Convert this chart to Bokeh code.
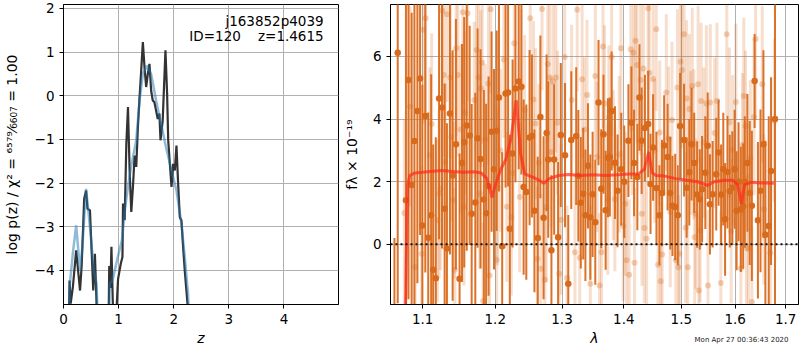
from bokeh.plotting import figure
from bokeh.layouts import row
from bokeh.models import Range1d, FixedTicker, Label, Span, Title, CustomJSTickFormatter, ColumnDataSource
from bokeh.embed import file_html
from bokeh.resources import INLINE

# ---------------- left panel: p(z) ----------------
pz_z = [0.085, 0.11, 0.13, 0.17, 0.23, 0.27, 0.30, 0.33, 0.375, 0.41, 0.435, 0.48, 0.51, 0.54, 0.57, 0.60, 0.62,
        0.81, 0.83, 0.85, 0.87, 0.89, 0.91, 0.95, 0.99, 1.04, 1.07, 1.08, 1.11, 1.14, 1.17, 1.20, 1.23, 1.26, 1.29,
        1.32, 1.35, 1.38, 1.41, 1.44, 1.47, 1.50, 1.53, 1.56, 1.59, 1.62, 1.65, 1.68, 1.71, 1.74, 1.76, 1.80, 1.85,
        1.88, 1.90, 1.93, 1.96, 1.99, 2.02, 2.05, 2.08, 2.11, 2.14, 2.17, 2.20, 2.23, 2.25, 2.28]
pz_logp = [-6.0, -4.23, -4.76, -4.38, -3.54, -4.07, -4.46, -3.88, -2.36, -2.17, -2.59, -2.62, -3.54, -4.46, -3.62, -4.76, -6.0,
           -6.0, -3.9, -4.4, -3.46, -4.5, -5.5, -5.2, -4.2, -3.84, -3.69, -2.47, -2.85, -1.10, -0.26, -1.71, -2.66, -2.09, -1.37,
           -1.63, -0.72, -0.03, 0.58, 1.23, 0.65, 0.20, 0.50, 0.73, 0.12, -0.11, -0.15, -0.34, -0.53, -0.41, -1.02, -0.57, 1.04,
           0.05, -1.02, -1.56, -2.09, -1.56, -1.71, -1.14, -2.01, -2.78, -2.85, -3.46, -4.00, -4.46, -4.76, -6.0]

fit_z = [0.09, 0.11, 0.17, 0.23, 0.30, 0.34, 0.41, 0.48, 0.55, 0.60, 0.64, 0.82, 0.84, 0.89, 0.97, 1.06, 1.12,
         1.18, 1.23, 1.32, 1.38, 1.44, 1.52, 1.59, 1.68, 1.77, 1.86, 1.96, 2.05, 2.14, 2.20, 2.26, 2.30]
fit_logp = [-6.0, -4.38, -3.6, -2.97, -4.0, -3.5, -2.13, -3.0, -4.0, -4.3, -6.0, -6.0, -4.3, -4.23, -3.77, -3.31, -2.55,
            -2.0, -1.6, -1.02, -0.11, 0.50, 0.69, 0.50, -0.11, -0.64, -1.18, -1.71, -2.17, -2.93, -3.69, -4.53, -6.0]

z_ticks = [0, 1, 2, 3, 4]
logp_ticks = [-4, -3, -2, -1, 0, 1, 2]

# ---------------- right panel: spectrum ----------------
dark_wave = [1.0633, 1.0675, 1.0781, 1.0814, 1.0855, 1.0891, 1.0930, 1.0965, 1.0995, 1.1034,
             1.1073, 1.1112, 1.1139, 1.1174, 1.1218, 1.1257, 1.1293, 1.1324, 1.1365, 1.1402,
             1.1447, 1.1497, 1.1531, 1.1561, 1.1596, 1.1637, 1.1665, 1.1716, 1.1748, 1.1790,
             1.1837, 1.1869, 1.1904, 1.1947, 1.1982, 1.2020, 1.2053, 1.2100, 1.2149, 1.2186,
             1.2211, 1.2252, 1.2294, 1.2342, 1.2382, 1.2415, 1.2455, 1.2504, 1.2539, 1.2577,
             1.2627, 1.2667, 1.2716, 1.2762, 1.2787, 1.2836, 1.2878, 1.2939, 1.2981, 1.3047,
             1.3098, 1.3145, 1.3223, 1.3257, 1.3296, 1.3335, 1.3370, 1.3411, 1.3449, 1.3486,
             1.3529, 1.3582, 1.3626, 1.3663, 1.3698, 1.3736, 1.3768, 1.3797, 1.3853, 1.3896,
             1.3957, 1.4007, 1.4078, 1.4128, 1.4173, 1.4229, 1.4265, 1.4303, 1.4359, 1.4415,
             1.4456, 1.4500, 1.4559, 1.4611, 1.4656, 1.4694, 1.4755, 1.4802, 1.4842, 1.4890,
             1.4936, 1.4978, 1.5049, 1.5096, 1.5144, 1.5185, 1.5233, 1.5287, 1.5336, 1.5378,
             1.5438, 1.5482, 1.5524, 1.5574, 1.5641, 1.5685, 1.5733, 1.5774, 1.5808, 1.5853,
             1.5896, 1.5946, 1.5990, 1.6028, 1.6066, 1.6110, 1.6155, 1.6186, 1.6237, 1.6282,
             1.6324, 1.6378, 1.6443, 1.6494, 1.6552, 1.6591, 1.6658, 1.6704, 1.6783]
dark_flux = [-3.30, 6.12, 1.41, 5.25, 1.90, 3.30, 4.26, 5.30, 0.60, 4.10,
             0.21, 0.93, -0.81, -1.08, 4.66, 4.37, 1.14, -0.13, 4.18, 2.20,
             3.20, -1.10, 2.60, 3.26, 3.80, 3.48, 0.98, 1.34, 3.39, 2.73,
             1.43, 0.99, 1.86, 3.60, 2.40, 3.63, 4.69, -0.06, 4.82, 4.85,
             0.50, 2.90, 4.98, 5.20, 5.03, 1.83, 1.67, 3.41, 3.46, 1.07,
             0.20, 4.07, 0.85, 3.56, 2.71, -0.19, 2.71, 0.23, 3.49, 2.85,
             -1.26, 3.33, 3.46, 2.19, 1.33, 1.62, 0.93, 2.51, 0.87, 1.60,
             0.71, 4.53, 1.78, 3.52, 1.09, 2.77, 2.79, 4.26, 2.61, 1.71,
             2.40, 2.00, 3.31, 3.88, 2.60, 2.15, 4.69, 3.31, 3.72, 3.84,
             1.93, 3.09, 1.80, 0.93, 1.64, 3.16, 2.79, 1.64, 1.23, 1.19,
             0.93, 3.78, 3.33, 1.81, 2.30, 3.20, 2.60, 1.59, 1.44, 1.76,
             2.29, 3.15, 1.28, 1.60, 2.24, 2.93, 1.59, 2.40, 0.80, 2.31,
             1.70, 1.81, 2.40, 1.07, 2.00, 1.12, 1.22, 1.99, 2.60, 1.64,
             1.23, 5.22, 0.77, 1.71, 3.20, 0.31, 0.59, 2.34, 4.00]
dark_err = [3.5, 8.0, 7.5, 7.0, 5.5, 6.0, 5.5, 5.0, 4.5, 5.0,
            4.0, 4.5, 4.0, 4.5, 4.5, 4.5, 4.0, 4.0, 4.5, 4.0,
            4.0, 4.0, 3.8, 4.0, 4.0, 3.5, 3.5, 3.5, 3.5, 3.5,
            3.5, 3.5, 3.5, 3.2, 3.2, 3.2, 3.0, 3.0, 3.0, 3.0,
            3.0, 3.0, 3.0, 2.8, 2.8, 2.8, 2.8, 2.8, 2.6, 2.6,
            2.6, 2.6, 2.6, 2.5, 2.5, 2.4, 2.4, 2.4, 2.3, 2.3,
            2.2, 2.2, 2.2, 2.1, 2.1, 2.1, 2.1, 2.0, 2.0, 2.0,
            2.0, 2.0, 1.9, 1.9, 1.9, 1.9, 1.9, 1.9, 1.8, 1.8,
            1.8, 1.8, 1.8, 1.8, 1.7, 1.7, 1.7, 1.7, 1.7, 1.7,
            1.6, 1.7, 1.8, 1.6, 1.7, 1.6, 1.7, 1.8, 1.6, 1.7,
            1.6, 1.7, 1.8, 1.6, 1.7, 1.8, 1.6, 1.7, 1.6, 1.7,
            1.8, 1.7, 1.6, 1.7, 1.8, 1.7, 1.6, 1.8, 1.8, 1.8,
            1.8, 1.8, 1.9, 1.9, 1.9, 2.0, 2.0, 2.1, 2.2, 2.3,
            2.4, 1.5, 2.5, 2.6, 3.0, 3.0, 3.5, 3.0, 6.0]

light_wave = [1.0760, 1.0836, 1.0900, 1.0987, 1.1008, 1.1039, 1.1095, 1.1118, 1.1196, 1.1218,
              1.1236, 1.1262, 1.1284, 1.1300, 1.1324, 1.1370, 1.1384, 1.1420, 1.1432, 1.1450,
              1.1474, 1.1511, 1.1542, 1.1558, 1.1575, 1.1609, 1.1702, 1.1734, 1.1762, 1.1778,
              1.1795, 1.1813, 1.1827, 1.1855, 1.1901, 1.1918, 1.1935, 1.2020, 1.2034, 1.2074,
              1.2124, 1.2168, 1.2233, 1.2259, 1.2276, 1.2357, 1.2379, 1.2430, 1.2514, 1.2562,
              1.2592, 1.2622, 1.2644, 1.2675, 1.2692, 1.2735, 1.2757, 1.2780, 1.2810, 1.2833,
              1.2863, 1.2904, 1.2931, 1.2954, 1.2985, 1.3042, 1.3078, 1.3151, 1.3203, 1.3239,
              1.3280, 1.3317, 1.3354, 1.3396, 1.3449, 1.3529, 1.3558, 1.3598, 1.3631, 1.3655,
              1.3679, 1.3733, 1.3752, 1.3797, 1.3825, 1.3850, 1.3924, 1.3952, 1.3990, 1.4023,
              1.4048, 1.4090, 1.4118, 1.4139, 1.4164, 1.4181, 1.4198, 1.4224, 1.4286, 1.4308,
              1.4333, 1.4350, 1.4388, 1.4415, 1.4435, 1.4500, 1.4529, 1.4555, 1.4586, 1.4616,
              1.4633, 1.4659, 1.4732, 1.4772, 1.4802, 1.4833, 1.4900, 1.4930, 1.4948, 1.4966,
              1.4984, 1.5010, 1.5049, 1.5078, 1.5096, 1.5117, 1.5144, 1.5170, 1.5197, 1.5224,
              1.5242, 1.5260, 1.5305, 1.5318, 1.5342, 1.5360, 1.5409, 1.5457, 1.5488, 1.5530,
              1.5611, 1.5654, 1.5728, 1.5840, 1.5890, 1.5924, 1.5952, 1.6014, 1.6110, 1.6142,
              1.6167, 1.6200, 1.6218, 1.6257, 1.6295, 1.6324, 1.6366, 1.6397, 1.6528, 1.6561,
              1.6690, 1.6769]
light_flux = [1.00, 4.40, -0.73, -0.30, 6.85, 7.22, 2.85, 3.84, 0.77, 1.62,
              1.78, 7.46, 5.41, 2.63, 7.35, 5.33, 3.43, 1.41, -0.81, 6.26,
              5.41, 3.67, 7.41, 1.19, 4.20, 7.38, 4.61, 6.21, 5.33, 1.62,
              4.98, 5.80, -1.81, 3.35, 5.14, -0.99, 7.51, -0.49, 1.83, 3.00,
              5.90, 1.20, 0.87, 2.28, 6.42, 1.51, 5.01, 4.29, 7.22, 4.63,
              3.86, -0.46, 2.61, -0.78, 7.52, -1.13, 1.19, 5.76, 5.33, 2.95,
              5.19, 5.33, 3.88, -0.94, 0.79, 5.98, -1.07, 4.61, -0.25, 7.49,
              -0.43, 5.27, 3.67, 4.77, -1.26, 5.38, 2.79, -1.31, -0.25, 6.32,
              4.50, 1.43, 4.05, 5.98, 2.53, 1.44, 2.88, 6.26, 0.59, 1.30,
              -0.51, -0.97, 6.23, 3.88, 6.12, -0.59, 6.50, 5.73, 5.25, 0.98,
              5.62, 0.52, 0.18, 7.54, 5.48, 5.28, 2.99, 6.87, -0.65, 3.57,
              -1.18, -0.32, 4.85, 3.38, 1.03, 3.97, -0.51, 5.01, -0.73, -0.30,
              5.83, 5.57, 6.71, 0.53, 4.66, -0.73, 4.32, 3.24, 5.06, 3.20,
              0.23, 0.98, 5.11, -1.47, 0.45, 4.58, 3.25, 4.50, -1.31, 4.53,
              3.56, 4.58, -1.23, 6.71, 3.89, 0.42, 3.01, 4.55, -0.76, 3.17,
              4.74, 3.78, -0.11, -0.14, 2.74, -1.84, 4.07, 6.56, 5.11, 1.12,
              -0.27, 3.95]
light_err = [3.0, 3.2, 3.0, 2.8, 3.0, 3.1, 2.8, 2.9, 2.6, 2.7,
             2.6, 2.9, 2.6, 2.5, 2.8, 2.6, 2.7, 2.5, 2.6, 2.8,
             2.6, 2.7, 2.9, 2.5, 2.6, 2.8, 2.5, 2.7, 2.6, 2.4,
             2.5, 2.6, 2.5, 2.4, 2.6, 2.5, 2.7, 2.4, 2.5, 2.6,
             2.5, 2.4, 2.5, 2.3, 2.6, 2.4, 2.5, 2.4, 2.6, 2.5,
             2.4, 2.3, 2.5, 2.4, 2.6, 2.3, 2.4, 2.5, 2.6, 2.4,
             2.5, 2.4, 2.3, 2.5, 2.4, 2.6, 2.3, 2.4, 2.5, 2.6,
             2.4, 2.5, 2.3, 2.4, 2.5, 2.6, 2.4, 2.3, 2.4, 2.6,
             2.5, 2.4, 2.3, 2.5, 2.4, 2.3, 2.5, 2.6, 2.4, 2.3,
             2.5, 2.4, 2.6, 2.3, 2.5, 2.4, 2.6, 2.5, 2.4, 2.3,
             2.5, 2.4, 2.3, 2.6, 2.4, 2.5, 2.3, 2.6, 2.4, 2.3,
             2.5, 2.4, 2.5, 2.3, 2.4, 2.5, 2.4, 2.5, 2.3, 2.4,
             2.6, 2.5, 2.6, 2.4, 2.5, 2.3, 2.4, 2.3, 2.5, 2.4,
             2.3, 2.4, 2.5, 2.4, 2.3, 2.5, 2.4, 2.5, 2.4, 2.5,
             2.4, 2.5, 2.3, 2.6, 2.4, 2.3, 2.4, 2.5, 2.4, 2.3,
             2.5, 2.4, 2.3, 2.4, 2.5, 2.4, 2.5, 2.6, 2.5, 2.4,
             2.5, 2.6]

model_wave = [1.0740, 1.0770, 1.0790, 1.0805, 1.0830, 1.0900, 1.1000, 1.1100, 1.1250, 1.1400,
              1.1550, 1.1700, 1.1800, 1.1880, 1.1953, 1.2000, 1.2080, 1.2150, 1.2230, 1.2307,
              1.2370, 1.2430, 1.2550, 1.2650, 1.2720, 1.2800, 1.2950, 1.3100, 1.3300, 1.3500,
              1.3700, 1.3900, 1.4100, 1.4250, 1.4350, 1.4426, 1.4480, 1.4550, 1.4700, 1.4900,
              1.5100, 1.5300, 1.5480, 1.5600, 1.5800, 1.5950, 1.6050, 1.6120, 1.6180, 1.6300,
              1.6500, 1.6760]
model_flux = [-3.0, -3.0, 0.5, 1.9, 2.2, 2.28, 2.30, 2.33, 2.36, 2.33,
              2.30, 2.32, 2.28, 2.10, 1.50, 1.90, 2.40, 2.70, 3.40, 4.60,
              2.90, 2.25, 2.15, 2.05, 1.95, 2.10, 2.20, 2.23, 2.20, 2.22,
              2.20, 2.22, 2.25, 2.25, 2.40, 2.95, 2.30, 2.20, 2.18, 2.10,
              2.05, 2.00, 1.88, 2.00, 2.05, 2.05, 1.90, 1.30, 1.90, 1.98,
              1.96, 1.95]

wave_ticks = [1.1, 1.2, 1.3, 1.4, 1.5, 1.6, 1.7]
flux_ticks = [0, 2, 4, 6]

FONT = "DejaVu Sans"
ORANGE = "#d96a1c"
GRID = "#b0b0b0"


def style(p):
    p.outline_line_color = "black"
    p.outline_line_width = 1
    p.outline_line_alpha = 1
    p.background_fill_color = "white"
    p.border_fill_color = "white"
    for ax in p.axis:
        ax.axis_line_color = "black"
        ax.major_tick_line_color = "black"
        ax.major_tick_out = 4
        ax.major_tick_in = 0
        ax.minor_tick_line_color = None
        ax.major_label_text_font = FONT
        ax.major_label_text_font_size = "13.5px"
        ax.major_label_text_color = "black"
        ax.axis_label_text_font = FONT
        ax.axis_label_text_font_size = "14px"
        ax.axis_label_text_color = "black"
    for g in p.grid:
        g.grid_line_color = GRID
        g.grid_line_width = 1


minus_fmt = CustomJSTickFormatter(code="return tick < 0 ? '\\u2212' + (-tick) : '' + tick;")

# ---------- left figure ----------
p1 = figure(width=340, height=350, output_backend="svg", toolbar_location=None,
            x_range=Range1d(0, 4.99), y_range=Range1d(-4.78, 2.09),
            min_border_left=62, min_border_right=2, min_border_top=4, min_border_bottom=46)
p1.line(pz_z, pz_logp, line_color="#333333", line_width=2.2)
p1.line(fit_z, fit_logp, line_color="#1f77b4", line_width=2.5, line_alpha=0.5)
p1.xaxis.ticker = FixedTicker(ticks=z_ticks)
p1.yaxis.ticker = FixedTicker(ticks=logp_ticks)
p1.yaxis.formatter = minus_fmt
p1.xaxis.axis_label = "z"
p1.yaxis.axis_label = "log p(z) / \u03c7\u00b2 = \u2076\u2075\u2077\u2079\u2044\u2086\u2086\u2080\u2087 = 1.00"
style(p1)
p1.yaxis.axis_label_text_font_style = "normal"
p1.xaxis.axis_label_text_font_style = "italic"
p1.yaxis.axis_label_standoff = 12
p1.xaxis.axis_label_standoff = 3
p1.add_layout(Label(x=4.72, y=1.72, text="j163852p4039", text_align="right", text_baseline="middle",
                    text_font=FONT, text_font_size="13.5px", text_color="black"))
p1.add_layout(Label(x=4.72, y=1.38, text="ID=120\u00a0\u00a0\u00a0\u00a0z=1.4615", text_align="right",
                    text_baseline="middle", text_font=FONT, text_font_size="13.5px", text_color="black"))

# ---------- right figure ----------
p2 = figure(width=460, height=350, output_backend="svg", toolbar_location=None, x_axis_type="log",
            x_range=Range1d(1.0583, 1.7263), y_range=Range1d(-1.92, 7.66),
            min_border_left=44, min_border_right=2, min_border_top=4, min_border_bottom=46)

light_src = ColumnDataSource(dict(
    x=light_wave, y=light_flux,
    lo=[f - e for f, e in zip(light_flux, light_err)],
    hi=[f + e for f, e in zip(light_flux, light_err)]))
dark_src = ColumnDataSource(dict(
    x=dark_wave, y=dark_flux,
    lo=[f - e for f, e in zip(dark_flux, dark_err)],
    hi=[f + e for f, e in zip(dark_flux, dark_err)]))

p2.segment(x0="x", y0="lo", x1="x", y1="hi", source=light_src, line_color=ORANGE, line_width=3, line_alpha=0.22)
p2.scatter(x="x", y="y", source=light_src, size=6, fill_color=ORANGE, fill_alpha=0.3, line_color=None)
p2.segment(x0="x", y0="lo", x1="x", y1="hi", source=dark_src, line_color=ORANGE, line_width=2.0, line_alpha=0.95)
p2.scatter(x="x", y="y", source=dark_src, size=6.5, fill_color=ORANGE, line_color=None)
p2.line(model_wave, model_flux, line_color="#ff2a1a", line_width=3, line_alpha=0.7)
p2.add_layout(Span(location=0, dimension="width", line_color="#111111", line_width=2, line_dash="2 3"))

p2.xaxis.ticker = FixedTicker(ticks=wave_ticks)
p2.xaxis.formatter = CustomJSTickFormatter(code="return tick.toFixed(1);")
p2.yaxis.ticker = FixedTicker(ticks=flux_ticks)
p2.xaxis.axis_label = "\u03bb"
p2.yaxis.axis_label = "f\u03bb \u00d7 10\u207b\u00b9\u2079"
style(p2)
p2.yaxis.axis_label_text_font_style = "normal"
p2.xaxis.axis_label_text_font_style = "italic"
p2.yaxis.axis_label_standoff = 10
p2.xaxis.axis_label_standoff = 3
p2.add_layout(Title(text="Mon Apr 27 00:36:43 2020", align="right", vertical_align="top", standoff=-26, offset=10,
                    text_font=FONT, text_font_size="7px", text_font_style="normal", text_color="#222222"),
              "below")

layout = row(p1, p2)
open("out.html", "w").write(file_html(layout, INLINE))
